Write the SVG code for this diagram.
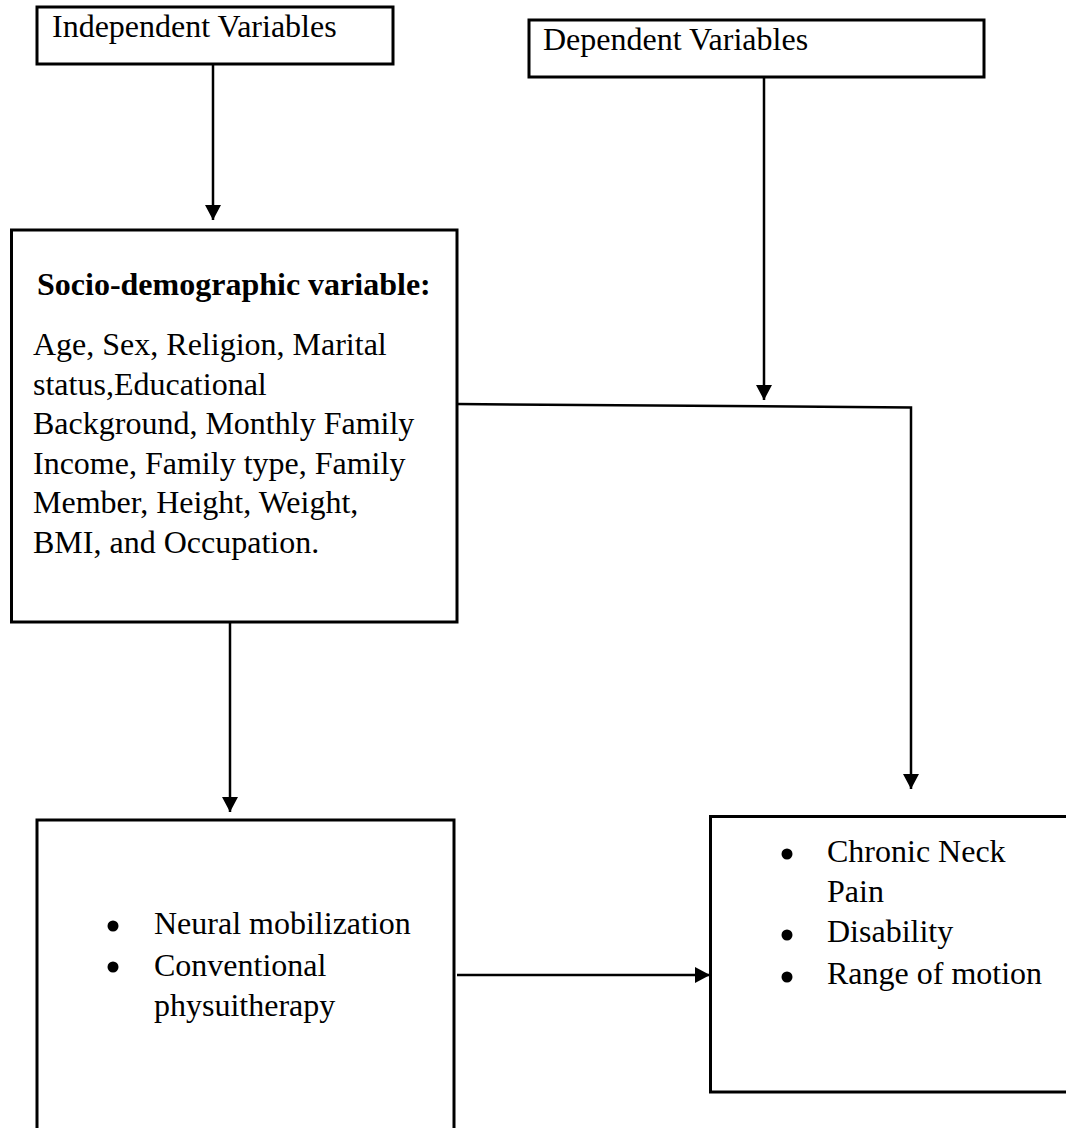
<svg xmlns="http://www.w3.org/2000/svg" width="1066" height="1128" viewBox="0 0 1066 1128">
<style>
.box{fill:#fff;stroke:#000;stroke-width:3}
.t{font-family:"Liberation Serif","Times New Roman",serif;font-size:32px;fill:#000}
.b{font-weight:bold}
.c{fill:none;stroke:#000;stroke-width:2.5}
.dot{fill:#000}
</style>
<defs>
<marker id="ah" markerUnits="userSpaceOnUse" markerWidth="16" markerHeight="16" refX="15" refY="8" orient="auto" viewBox="0 0 16 16">
<path d="M0,0 L15,8 L0,16 Z" fill="#000"/>
</marker>
</defs>
<rect width="1066" height="1128" fill="#fff"/>
<g id="independent">
<rect class="box" x="37" y="7" width="356" height="57"/>
<text class="t" x="52" y="37">Independent Variables</text>
</g>
<g id="dependent">
<rect class="box" x="529" y="20" width="455" height="57"/>
<text class="t" x="543" y="50">Dependent Variables</text>
</g>
<g id="socio">
<rect class="box" x="11.5" y="230" width="445.5" height="392"/>
<text class="t b" x="37" y="295">Socio-demographic variable:</text>
<text class="t" x="33" y="355">Age, Sex, Religion, Marital</text>
<text class="t" x="33" y="395">status,Educational</text>
<text class="t" x="33" y="434">Background, Monthly Family</text>
<text class="t" x="33" y="474">Income, Family type, Family</text>
<text class="t" x="33" y="513">Member, Height, Weight,</text>
<text class="t" x="33" y="553">BMI, and Occupation.</text>
</g>
<g id="intervention">
<rect class="box" x="37" y="820" width="417" height="330"/>
<circle class="dot" cx="113" cy="926" r="5.5"/>
<circle class="dot" cx="113" cy="967" r="5.5"/>
<text class="t" x="154" y="934">Neural mobilization</text>
<text class="t" x="154" y="976">Conventional</text>
<text class="t" x="154" y="1016">physuitherapy</text>
</g>
<g id="outcomes">
<rect class="box" x="710.5" y="816.5" width="370" height="275.5"/>
<circle class="dot" cx="787" cy="854" r="5.5"/>
<circle class="dot" cx="787" cy="935" r="5.5"/>
<circle class="dot" cx="787" cy="977" r="5.5"/>
<text class="t" x="827" y="862">Chronic Neck</text>
<text class="t" x="827" y="902">Pain</text>
<text class="t" x="827" y="942">Disability</text>
<text class="t" x="827" y="984">Range of motion</text>
</g>
<g id="connectors">
<path class="c" d="M213,65 L213,220" marker-end="url(#ah)"/>
<path class="c" d="M764,77 L764,400" marker-end="url(#ah)"/>
<path class="c" d="M457,404 L911,407.5 L911,789" marker-end="url(#ah)"/>
<path class="c" d="M230,622 L230,812" marker-end="url(#ah)"/>
<path class="c" d="M457,975 L710,975" marker-end="url(#ah)"/>
</g>
</svg>
